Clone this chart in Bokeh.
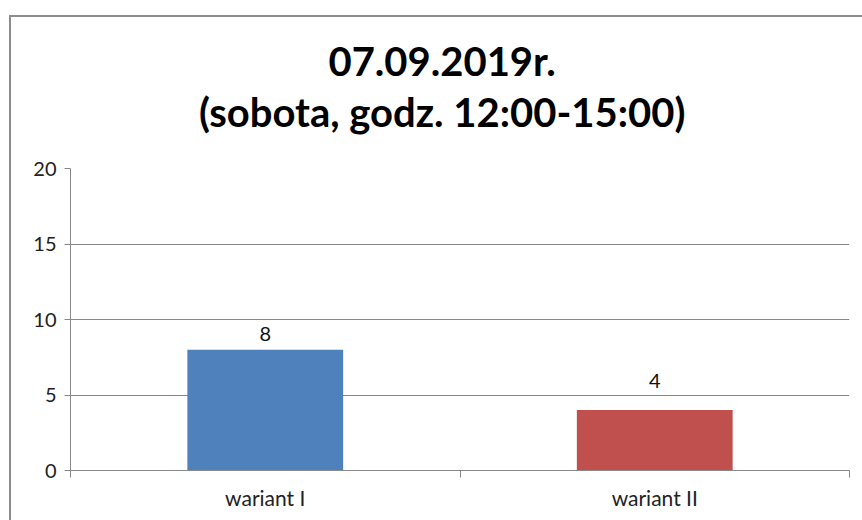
from bokeh.plotting import figure
from bokeh.layouts import column
from bokeh.models import FixedTicker, ColumnDataSource, Range1d
from bokeh.core.properties import value
from bokeh.embed import file_html
from bokeh.resources import INLINE

categories = ["wariant I", "wariant II"]
values = [8, 4]
colors = ["#4f81bd", "#c0504d"]
y_ticks = [0, 5, 10, 15, 20]
title_lines = ["07.09.2019r.", "(sobota, godz. 12:00-15:00)"]

FONT = "Lato"
GRID = "#888888"
W = 851
TITLE_H = 131
LABEL_OFFSETS = [-9, -22]  # pixel offsets of value labels above bars

# ---- title strip (pixel-like coordinates, y grows downward)
tf = figure(width=W, height=TITLE_H, output_backend="svg", toolbar_location=None,
            x_range=Range1d(0, W), y_range=Range1d(TITLE_H, 0),
            min_border=0, min_border_left=0, min_border_right=0,
            min_border_top=0, min_border_bottom=0)
tf.title = None
tf.axis.visible = False
tf.grid.visible = False
tf.outline_line_color = None
tsrc = ColumnDataSource(dict(x=[406] * len(title_lines), y=[43, 94],
                             text=title_lines))
tf.text(x="x", y="y", text="text", source=tsrc, text_align="center",
        text_baseline="alphabetic", text_font=value(FONT),
        text_font_size="40px", text_font_style="bold", text_color="#000000")

# ---- main chart
xs = [i + 0.5 for i in range(len(categories))]
src = ColumnDataSource(dict(x=xs, top=values, color=colors,
                            label=[str(v) for v in values],
                            yoff=LABEL_OFFSETS))

p = figure(width=W, height=503 - TITLE_H, output_backend="svg",
           toolbar_location=None,
           x_range=Range1d(0, len(categories)), y_range=Range1d(0, 20),
           min_border_left=59, min_border_right=13, min_border_bottom=50,
           min_border_top=20)
p.title = None
p.outline_line_color = None
p.background_fill_color = "white"
p.border_fill_color = "white"

p.vbar(x="x", top="top", width=0.4, bottom=0, color="color", source=src,
       line_color=None)
p.text(x="x", y="top", text="label", source=src, text_align="center",
       text_baseline="bottom", y_offset="yoff", text_font=value(FONT),
       text_font_size="20px", text_color="#111111")

# y axis
p.yaxis.ticker = FixedTicker(ticks=y_ticks)
p.yaxis.axis_line_color = GRID
p.yaxis.major_tick_line_color = GRID
p.yaxis.major_tick_out = 6
p.yaxis.major_tick_in = 0
p.yaxis.minor_tick_line_color = None
p.yaxis.major_label_text_font = FONT
p.yaxis.major_label_text_font_size = "20px"
p.yaxis.major_label_text_color = "#222222"
p.yaxis.major_label_standoff = 8

# x axis: labels at centres, ticks at category boundaries
p.xaxis.ticker = FixedTicker(ticks=xs, minor_ticks=list(range(len(categories) + 1)))
p.xaxis.major_label_overrides = {x: c for x, c in zip(xs, categories)}
p.xaxis.axis_line_color = GRID
p.xaxis.major_tick_line_color = None
p.xaxis.major_tick_out = 0
p.xaxis.major_tick_in = 0
p.xaxis.minor_tick_line_color = GRID
p.xaxis.minor_tick_out = 7
p.xaxis.minor_tick_in = 0
p.xaxis.major_label_text_font = FONT
p.xaxis.major_label_text_font_size = "21px"
p.xaxis.major_label_text_color = "#222222"
p.xaxis.major_label_standoff = 7

p.xgrid.grid_line_color = None
p.ygrid.ticker = FixedTicker(ticks=y_ticks)
p.ygrid.grid_line_color = GRID

layout = column(tf, p, spacing=0,
                styles={"border-left": "2px solid #8c8c8c",
                        "border-top": "2px solid #8c8c8c",
                        "margin-left": "9px", "margin-top": "15px"})

open("out.html", "w").write(file_html(layout, INLINE))
